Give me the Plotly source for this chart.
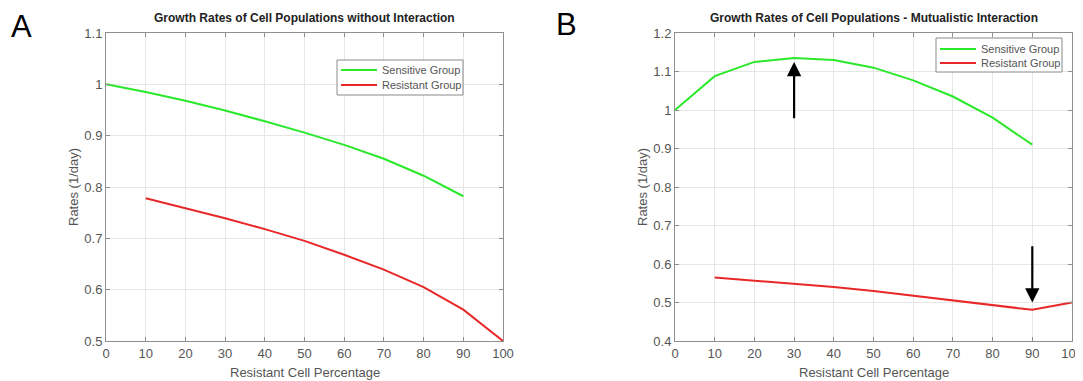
import plotly.graph_objects as go

pct = [0, 10, 20, 30, 40, 50, 60, 70, 80, 90, 100]

# Panel A: no interaction
a_sens_x = [0, 10, 20, 30, 40, 50, 60, 70, 80, 90]
a_sens = [1.0, 0.985, 0.968, 0.949, 0.928, 0.906, 0.882, 0.855, 0.822, 0.782]
a_res_x = [10, 20, 30, 40, 50, 60, 70, 80, 90, 100]
a_res = [0.778, 0.759, 0.739, 0.718, 0.695, 0.668, 0.639, 0.605, 0.561, 0.5]

# Panel B: mutualistic interaction
b_sens_x = [0, 10, 20, 30, 40, 50, 60, 70, 80, 90]
b_sens = [1.0, 1.088, 1.125, 1.135, 1.130, 1.110, 1.077, 1.035, 0.980, 0.910]
b_res_x = [10, 20, 30, 40, 50, 60, 70, 80, 90, 100]
b_res = [0.565, 0.557, 0.549, 0.540, 0.530, 0.518, 0.506, 0.493, 0.481, 0.5]

a_yticks = [0.5, 0.6, 0.7, 0.8, 0.9, 1.0, 1.1]
a_ylabels = ["0.5", "0.6", "0.7", "0.8", "0.9", "1", "1.1"]
b_yticks = [0.4, 0.5, 0.6, 0.7, 0.8, 0.9, 1.0, 1.1, 1.2]
b_ylabels = ["0.4", "0.5", "0.6", "0.7", "0.8", "0.9", "1", "1.1", "1.2"]

series_names = ["Sensitive Group", "Resistant Group"]

GREEN = "#2ae82a"
RED = "#e82828"
FONT = "Liberation Sans, Arial, sans-serif"
W, H = 1083, 381
OFF = 8  # page body margin


def px(x):
    return (x - OFF) / W


def py(y):
    return 1 - (y - OFF) / H


fig = go.Figure()
fig.add_trace(go.Scatter(x=a_sens_x, y=a_sens, mode="lines", name=series_names[0],
                         line=dict(color=GREEN, width=2), xaxis="x", yaxis="y"))
fig.add_trace(go.Scatter(x=a_res_x, y=a_res, mode="lines", name=series_names[1],
                         line=dict(color=RED, width=2), xaxis="x", yaxis="y"))
fig.add_trace(go.Scatter(x=b_sens_x, y=b_sens, mode="lines", name=series_names[0],
                         line=dict(color=GREEN, width=2), xaxis="x2", yaxis="y2"))
fig.add_trace(go.Scatter(x=b_res_x, y=b_res, mode="lines", name=series_names[1],
                         line=dict(color=RED, width=2), xaxis="x2", yaxis="y2"))

axis_common = dict(showline=True, linecolor="#8f8f8f", linewidth=1, mirror="ticks",
                   ticks="inside", ticklen=4, tickcolor="#8f8f8f", automargin=False,
                   showgrid=True, gridcolor="#e6e6e6", gridwidth=1, zeroline=False,
                   tickfont=dict(size=13, color="#555555", family=FONT))

TOP, BOT = 33, 341
AL, AR = 106, 503
BL, BR = 675, 1072
yd = [py(BOT), py(TOP)]

fig.update_layout(
    width=W, height=H,
    margin=dict(l=0, r=0, t=0, b=0, autoexpand=False),
    paper_bgcolor="white", plot_bgcolor="white",
    font=dict(family=FONT, color="#444444"),
    showlegend=False,
    xaxis=dict(domain=[px(AL), px(AR)], range=[0, 100], tickvals=pct, anchor="y",
               **axis_common),
    yaxis=dict(domain=yd, range=[0.5, 1.1], tickvals=a_yticks, ticktext=a_ylabels,
               anchor="x", **axis_common),
    xaxis2=dict(domain=[px(BL), px(BR)], range=[0, 100], tickvals=pct, anchor="y2",
                **axis_common),
    yaxis2=dict(domain=yd, range=[0.4, 1.2], tickvals=b_yticks, ticktext=b_ylabels,
                anchor="x2", **axis_common),
)

ann = []
shapes = []

# Legend boxes (MATLAB-style compact legends)
legend_specs = [
    # box x0, x1, y0, y1, line x0, x1, text x, row ys
    (337, 463, 60, 95, 341, 377, 380, [70, 85]),
    (936, 1062, 38, 72, 940, 976, 979, [49, 63]),
]
for bx0, bx1, by0, by1, lx0, lx1, tx, rows in legend_specs:
    shapes.append(dict(type="rect", xref="paper", yref="paper",
                       x0=px(bx0), x1=px(bx1), y0=py(by1), y1=py(by0),
                       line=dict(color="#8a8a8a", width=1), fillcolor="white", layer="above"))
    for name, color, ry in zip(series_names, [GREEN, RED], rows):
        shapes.append(dict(type="line", xref="paper", yref="paper",
                           x0=px(lx0), x1=px(lx1), y0=py(ry), y1=py(ry),
                           line=dict(color=color, width=2), layer="above"))
        ann.append(dict(text=name, x=px(tx), y=py(ry), xref="paper", yref="paper",
                        xanchor="left", yanchor="middle", showarrow=False,
                        font=dict(size=11, color="#555555", family=FONT)))

# Panel letters
ann.append(dict(text="A", x=px(21), y=py(26), xref="paper", yref="paper",
                xanchor="center", yanchor="middle", showarrow=False,
                font=dict(size=31, color="black", family=FONT)))
ann.append(dict(text="B", x=px(566), y=py(25), xref="paper", yref="paper",
                xanchor="center", yanchor="middle", showarrow=False,
                font=dict(size=31, color="black", family=FONT)))
# Titles
ann.append(dict(text="<b>Growth Rates of Cell Populations without Interaction</b>",
                x=px((AL + AR) / 2), y=py(18), xref="paper", yref="paper",
                xanchor="center", yanchor="middle", showarrow=False,
                font=dict(size=12, color="#222222", family=FONT)))
ann.append(dict(text="<b>Growth Rates of Cell Populations - Mutualistic Interaction</b>",
                x=px((BL + BR) / 2), y=py(18), xref="paper", yref="paper",
                xanchor="center", yanchor="middle", showarrow=False,
                font=dict(size=12, color="#222222", family=FONT)))
# Axis titles
for xc in [(AL + AR) / 2, (BL + BR) / 2]:
    ann.append(dict(text="Resistant Cell Percentage", x=px(xc), y=py(372),
                    xref="paper", yref="paper", xanchor="center", yanchor="middle",
                    showarrow=False, font=dict(size=13, color="#555555", family=FONT)))
for xc in [73, 642]:
    ann.append(dict(text="Rates (1/day)", x=px(xc), y=py((TOP + BOT) / 2), xref="paper",
                    yref="paper", xanchor="center", yanchor="middle", textangle=-90,
                    showarrow=False, font=dict(size=13, color="#555555", family=FONT)))
# Arrows in panel B
ann.append(dict(x=30, y=1.125, ax=30, ay=0.975, xref="x2", yref="y2", axref="x2", ayref="y2",
                text="", showarrow=True, arrowhead=2, arrowsize=1.3, arrowwidth=2.2,
                arrowcolor="black"))
ann.append(dict(x=90, y=0.5, ax=90, ay=0.65, xref="x2", yref="y2", axref="x2", ayref="y2",
                text="", showarrow=True, arrowhead=2, arrowsize=1.3, arrowwidth=2.2,
                arrowcolor="black"))
fig.update_layout(annotations=ann, shapes=shapes)

fig.write_html("out.html")
